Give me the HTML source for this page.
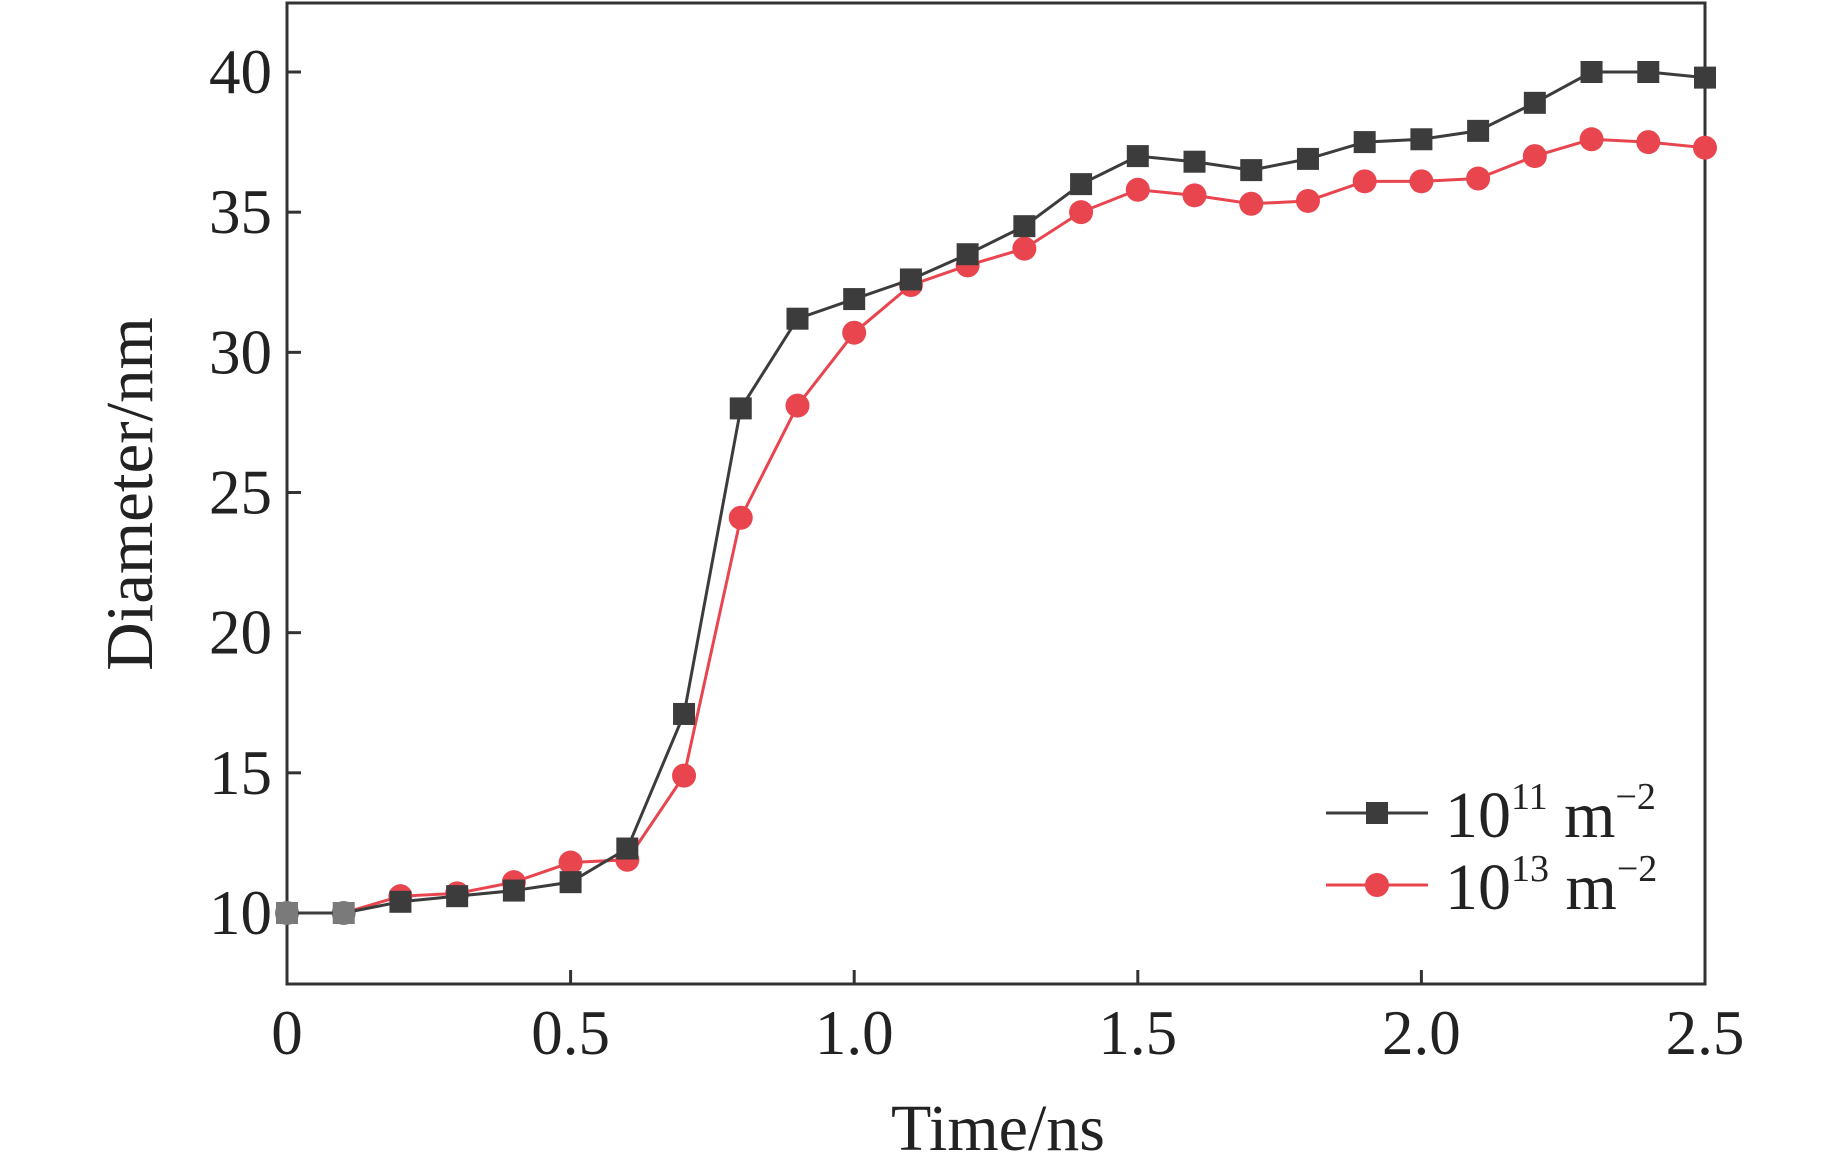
<!DOCTYPE html>
<html><head><meta charset="utf-8"><style>
html,body{margin:0;padding:0;background:#fff;}
svg text{font-family:"Liberation Serif",serif;fill:#222;}
</style></head><body>
<svg id="chart" width="1843" height="1168" xmlns="http://www.w3.org/2000/svg"></svg>
<script>
const times=[0,0.1,0.2,0.3,0.4,0.5,0.6,0.7,0.8,0.9,1.0,1.1,1.2,1.3,1.4,1.5,1.6,1.7,1.8,1.9,2.0,2.1,2.2,2.3,2.4,2.5];
const seriesA=[10,10,10.4,10.6,10.8,11.1,12.3,17.1,28,31.2,31.9,32.6,33.5,34.5,36,37,36.8,36.5,36.9,37.5,37.6,37.9,38.9,40,40,39.8];
const seriesB=[10,10,10.6,10.7,11.1,11.8,11.9,14.9,24.1,28.1,30.7,32.4,33.1,33.7,35,35.8,35.6,35.3,35.4,36.1,36.1,36.2,37,37.6,37.5,37.3];
const xTicks=[0,0.5,1.0,1.5,2.0,2.5];
const xTickLabels=["0","0.5","1.0","1.5","2.0","2.5"];
const yTicks=[10,15,20,25,30,35,40];
const L=287,R=1705,T=3,B=984;
const xs=v=>L+(v-0)/2.5*(R-L);
const ys=v=>913-(v-10)/30*(913-72);
const svg=document.getElementById('chart');
const NS='http://www.w3.org/2000/svg';
function mk(tag,attrs,parent){const e=document.createElementNS(NS,tag);for(const k in attrs)e.setAttribute(k,attrs[k]);(parent||svg).appendChild(e);return e;}
let e=mk('rect',{x:L,y:T,width:R-L,height:B-T,fill:'none',stroke:'#333','stroke-width':3});


xTicks.forEach((t,i)=>{
 let l=mk('line',{x1:xs(t),x2:xs(t),y1:B,y2:B-14,stroke:'#333','stroke-width':3});
 
 
 let tx=mk('text',{x:xs(t),y:1054,'font-size':63,'text-anchor':'middle'});
 tx.textContent=xTickLabels[i];
 
 
});
yTicks.forEach(t=>{
 let l=mk('line',{x1:L,x2:L+14,y1:ys(t),y2:ys(t),stroke:'#333','stroke-width':3});
 
 
 let tx=mk('text',{x:272,y:ys(t)+21,'font-size':63,'text-anchor':'end'});
 tx.textContent=String(t);
 
 
});
let xt=mk('text',{x:998,y:1150,'font-size':66,'text-anchor':'middle'});
xt.textContent='Time/ns';


let yt=mk('text',{x:0,y:0,'font-size':67,'text-anchor':'middle',transform:'translate(152,494) rotate(-90)'});
yt.textContent='Diameter/nm';


function series(vals,color,shape,name){
 const g=mk('g',{});
 
 
 const pts=vals.map((v,i)=>xs(times[i])+','+ys(v)).join(' ');
 let pl=mk('polyline',{points:pts,fill:'none',stroke:color,'stroke-width':3},g);
 
 
 vals.forEach((v,i)=>{
  const c=(i<2)?'#7a7a7a':color;
  let m;
  if(shape==='sq') m=mk('rect',{x:xs(times[i])-11,y:ys(v)-11,width:22,height:22,fill:c},g);
  else m=mk('circle',{cx:xs(times[i]),cy:ys(v),r:12,fill:c},g);
  
  
 });
}
series(seriesB,'#e8454f','ci','series-1e13');
series(seriesA,'#3c3c3c','sq','series-1e11');
function legend(y,color,shape,sup,name){
 const g=mk('g',{});
 
 
 mk('line',{x1:1326,x2:1428,y1:y,y2:y,stroke:color,'stroke-width':3},g);
 if(shape==='sq') mk('rect',{x:1366,y:y-11,width:22,height:22,fill:color},g);
 else mk('circle',{cx:1377,cy:y,r:12,fill:color},g);
 const t=mk('text',{x:1445,y:y+24,'font-size':66},g);
 t.innerHTML='10<tspan font-size="38" dy="-28">'+sup+'</tspan><tspan dy="28"> m</tspan><tspan font-size="38" dy="-28">−2</tspan>';
}
legend(813,'#3c3c3c','sq','11','legend-entry-1e11');
legend(885,'#e8454f','ci','13','legend-entry-1e13');
</script>
</body></html>
